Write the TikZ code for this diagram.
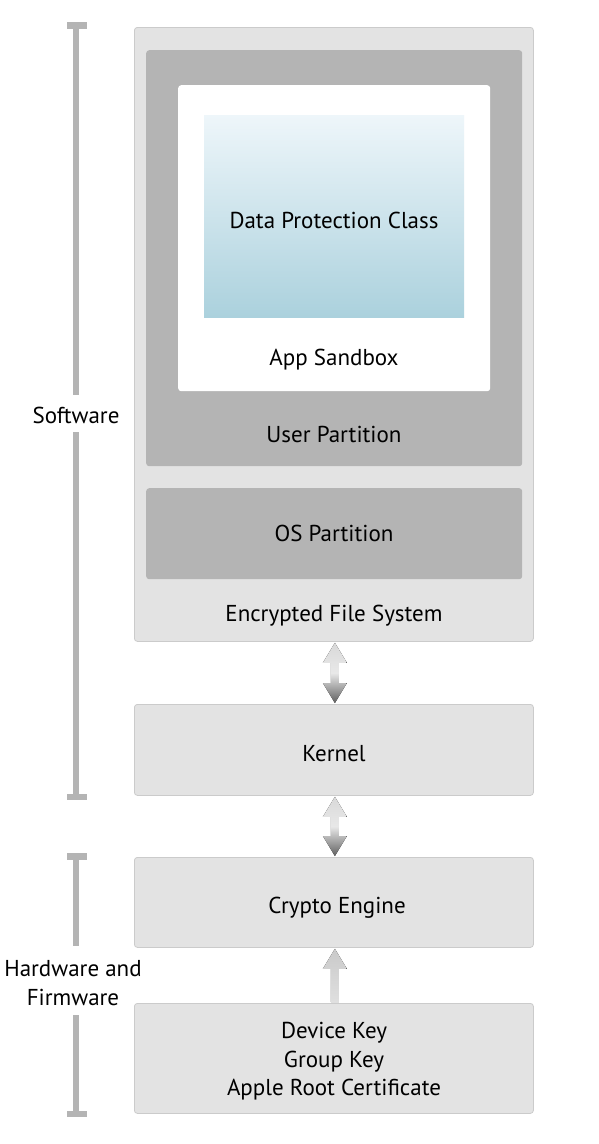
\documentclass[tikz,border=0pt]{standalone}
\usepackage{fontspec}
\setmainfont{PT Sans}
\usetikzlibrary{calc}
\definecolor{boxfill}{HTML}{E3E3E3}
\definecolor{boxline}{HTML}{CBCBCB}
\definecolor{partfill}{HTML}{B4B4B4}
\definecolor{barc}{HTML}{B4B4B4}
\definecolor{dpctop}{HTML}{EEF6FA}
\definecolor{dpcbot}{HTML}{ABD1DD}
\tikzset{
  lbox/.style={draw=boxline, line width=0.8pt, fill=boxfill, rounded corners=3pt, anchor=north west, inner sep=0pt},
  pbox/.style={draw=none, fill=partfill, rounded corners=3pt, anchor=north west, inner sep=0pt},
  wbox/.style={draw=none, fill=white, rounded corners=3pt, anchor=north west, inner sep=0pt},
  gbox/.style={draw=none, top color=dpctop, bottom color=dpcbot, anchor=north west, inner sep=0pt},
  lbl/.style={font=\fontsize{23}{27}\selectfont, text=black, inner sep=0pt, yshift=-2.5pt},
  bar/.style={fill=barc, draw=none},
}
\begin{document}
\begin{tikzpicture}[x=1pt,y=-1pt]
\useasboundingbox (0,0) rectangle (598,1144);
% boxes
\node[lbox, minimum width=399pt, minimum height=614pt] (efs) at (134,27) {};
\node[pbox, minimum width=376pt, minimum height=416pt] (user) at (146,50) {};
\node[wbox, minimum width=312pt, minimum height=306pt] (sand) at (178,85) {};
\node[gbox, minimum width=260pt, minimum height=202pt] (dpc) at (204,115) {};
\node[pbox, minimum width=376pt, minimum height=91pt] (os) at (146,488) {};
\node[lbox, minimum width=399pt, minimum height=91pt] (kernel) at (134,704) {};
\node[lbox, minimum width=399pt, minimum height=90pt] (crypto) at (134,857) {};
\node[lbox, minimum width=399pt, minimum height=110pt] (keys) at (134,1003) {};
% labels
\node[lbl] (tdpc) at (334,218) {Data Protection Class};
\node[lbl] (tsand) at (334,357) {App Sandbox};
\node[lbl] (tuser) at (334,432) {User Partition};
\node[lbl] (tos) at (334,531) {OS Partition};
\node[lbl] (tefs) at (334,613) {Encrypted File System};
\node[lbl] (tkern) at (334,751) {Kernel};
\node[lbl] (tcry) at (337,905) {Crypto Engine};
\node[lbl, align=center, font=\fontsize{23}{28.5}\selectfont] (tkeys) at (334,1059) {Device Key\\Group Key\\Apple Root Certificate};
\node[lbl] (tsoft) at (76,413) {Software};
\node[lbl, align=center, font=\fontsize{23}{29}\selectfont] (thw) at (73,981) {Hardware and\\Firmware};
% arrows
\coordinate (a1t) at ($(efs.south)+(1,1)$);
\coordinate (a1b) at ($(kernel.north)+(1,-1)$);
\fill[top color=gray!30, bottom color=gray!75!black, middle color=gray!18]
  (a1t) -- ++(12,20) -- ++(-8,0) |- ($(a1b)+(4,-20)$) -- ++(8,0) -- (a1b) -- ++(-12,-20) -- ++(8,0) |- ($(a1t)+(-4,20)$) -- ++(-8,0) -- cycle;
\coordinate (a2t) at ($(kernel.south)+(1,1)$);
\coordinate (a2b) at ($(crypto.north)+(1,-1)$);
\fill[top color=gray!30, bottom color=gray!75!black, middle color=gray!18]
  (a2t) -- ++(12,20) -- ++(-8,0) |- ($(a2b)+(4,-20)$) -- ++(8,0) -- (a2b) -- ++(-12,-20) -- ++(8,0) |- ($(a2t)+(-4,20)$) -- ++(-8,0) -- cycle;
\coordinate (a3t) at ($(crypto.south)+(1,1)$);
\coordinate (a3b) at ($(keys.north)+(1,-1)$);
\fill[top color=gray!42, bottom color=gray!25]
  (a3t) -- ++(12,20) -- ++(-8,0) |- (a3b) -| ($(a3t)+(-4,20)$) -- ++(-8,0) -- cycle;
% brackets
\fill[bar] (67,22) rectangle (87,29);
\fill[bar] (73,22) rectangle (79,395);
\fill[bar] (73,432) rectangle (79,800);
\fill[bar] (67,794) rectangle (87,800);
\fill[bar] (67,853) rectangle (87,860);
\fill[bar] (73,853) rectangle (79,946);
\fill[bar] (73,1015) rectangle (79,1117);
\fill[bar] (67,1111) rectangle (87,1117);
\end{tikzpicture}
\end{document}
